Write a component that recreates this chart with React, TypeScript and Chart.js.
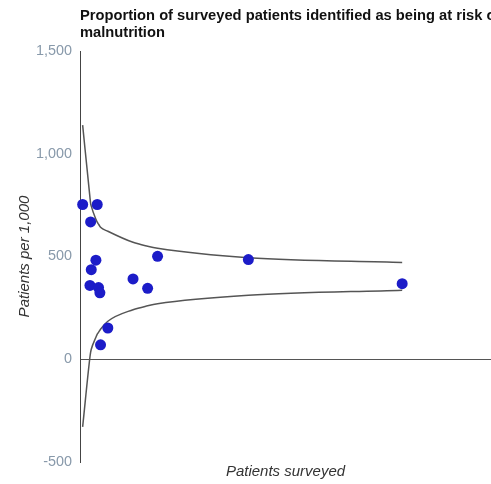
import { useEffect, useRef } from "react";
import { Chart, registerables } from "chart.js";

Chart.register(...registerables);

const titleLines = ["Proportion of surveyed patients identified as being at risk of", "malnutrition"];
const yTickValues = [-500, 0, 500, 1000, 1500];

// surveyed patients (x) and rate per 1,000 (y) for each unit
const unitPatients = [4, 26, 16, 24, 17, 15, 28, 30, 80, 102, 117, 42, 31, 254, 486];
const unitRate = [753, 753, 668, 482, 436, 359, 349, 323, 391, 345, 501, 152, 70, 485, 368];

// control limit lines
const limitPatients = [4, 15, 16, 17, 24, 26, 28, 30, 31, 42, 80, 102, 117, 254, 486];
const upperLimit = [1139, 788, 759, 745, 681, 667, 657, 647, 642, 623, 569, 550, 540, 494, 471];
const lowerLimit = [-329, 11, 34, 49, 107, 122, 131, 141, 146, 185, 241, 260, 270, 311, 336];

const FONT = "'Liberation Sans', Arial, sans-serif";

const titlePlugin = {
  id: "leftTitle",
  afterDraw(chart: any) {
    const ctx = chart.ctx;
    const left = chart.chartArea.left;
    ctx.save();
    ctx.font = `bold 14.7px ${FONT}`;
    ctx.fillStyle = "#111";
    ctx.textAlign = "left";
    ctx.textBaseline = "middle";
    titleLines.forEach((line, i) => ctx.fillText(line, left, 16 + i * 17));
    ctx.restore();
  },
};

export default function App() {
  const ref = useRef<HTMLCanvasElement>(null);
  useEffect(() => {
    const pts = unitPatients.map((x, i) => ({ x, y: unitRate[i] }));
    const up = limitPatients.map((x, i) => ({ x, y: upperLimit[i] }));
    const lo = limitPatients.map((x, i) => ({ x, y: lowerLimit[i] }));
    const lineStyle = {
      showLine: true,
      borderColor: "#555",
      borderWidth: 1.5,
      pointRadius: 0,
      cubicInterpolationMode: "monotone" as const,
      clip: false as any,
    };
    const chart = new Chart(ref.current!, {
      type: "scatter",
      data: {
        datasets: [
          {
            data: pts,
            backgroundColor: "#1c1cc8",
            borderColor: "#1c1cc8",
            pointRadius: 5.5,
            pointBorderWidth: 0,
            showLine: false,
            clip: false as any,
          },
          { data: up, ...lineStyle },
          { data: lo, ...lineStyle },
        ],
      },
      options: {
        animation: false,
        responsive: false,
        layout: { autoPadding: false, padding: { top: 51, right: 0, left: 0, bottom: 0 } },
        plugins: { legend: { display: false }, tooltip: { enabled: false }, title: { display: false } },
        scales: {
          x: {
            type: "linear",
            min: 0,
            max: 620,
            ticks: { display: false },
            grid: { display: false, drawTicks: false },
            border: { display: false },
            title: {
              display: true,
              text: "Patients surveyed",
              color: "#333",
              font: { family: FONT, size: 15, style: "italic" },
              padding: { top: 4, bottom: 3 },
            },
            afterFit(s: any) {
              s.height = 22;
            },
          },
          y: {
            type: "linear",
            min: -500,
            max: 1500,
            afterBuildTicks(s: any) {
              s.ticks = yTickValues.map((v) => ({ value: v }));
            },
            ticks: {
              padding: 8,
              color: "#8899aa",
              font: { family: FONT, size: 14.4 },
              callback: (v: any) => Number(v).toLocaleString("en-US"),
            },
            grid: {
              drawTicks: false,
              color: (c: any) => (c.tick && c.tick.value === 0 ? "#555" : "rgba(0,0,0,0)"),
              lineWidth: 1,
            },
            border: { display: true, color: "#444", width: 1 },
            title: {
              display: true,
              text: "Patients per 1,000",
              color: "#333",
              font: { family: FONT, size: 15, style: "italic" },
              padding: { top: 16, bottom: 0 },
            },
            afterFit(s: any) {
              s.width = 80;
            },
          },
        },
      },
      plugins: [titlePlugin],
    });
    return () => chart.destroy();
  }, []);
  return (
    <div style={{ position: "fixed", left: 0, top: 0, width: 491, height: 484, background: "#fff" }}>
      <canvas ref={ref} width={491} height={484} />
    </div>
  );
}
